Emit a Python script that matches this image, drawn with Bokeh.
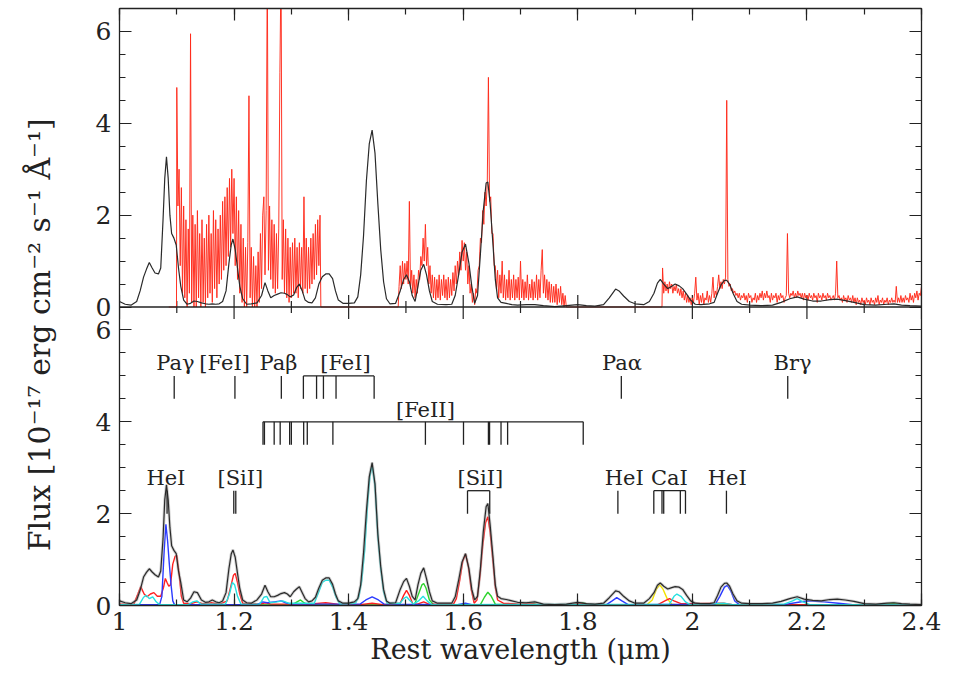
import math

from bokeh.core.properties import value
from bokeh.embed import file_html
from bokeh.layouts import row
from bokeh.models import CustomJSTickFormatter, FixedTicker, Label, LinearAxis, Range1d, Span
from bokeh.plotting import figure
from bokeh.resources import INLINE

FONT = "DejaVu Serif"

# ---------------------------------------------------------------- axes
X_MAJOR = [1.0, 1.2, 1.4, 1.6, 1.8, 2.0, 2.2, 2.4]
X_MINOR = [1.0, 1.1, 1.2, 1.3, 1.4, 1.5, 1.6, 1.7, 1.8, 1.9, 2.0, 2.1, 2.2, 2.3, 2.4]
Y_MAJOR = [0, 2, 4, 6]
Y_MINOR = [0, 0.5, 1, 1.5, 2, 2.5, 3, 3.5, 4, 4.5, 5, 5.5, 6]
PANEL_SPAN = 6.5          # flux range shown in each of the two stacked panels

# ------------------------------------------- model spectrum (wavelength, flux)
MODEL_TOP = [
    (1.000, 0.12), (1.010, 0.06), (1.020, 0.04), (1.030, 0.12), (1.036, 0.35), (1.042, 0.65),
    (1.047, 0.82), (1.052, 0.97), (1.057, 0.85), (1.062, 0.74), (1.068, 0.72), (1.072, 0.85),
    (1.076, 1.90), (1.079, 2.80), (1.082, 3.27), (1.085, 2.80), (1.088, 2.00), (1.091, 1.60),
    (1.095, 1.50), (1.099, 1.35), (1.103, 0.85), (1.107, 0.45), (1.112, 0.15), (1.118, 0.06),
    (1.124, 0.08), (1.130, 0.13), (1.136, 0.12), (1.143, 0.09), (1.150, 0.07), (1.156, 0.06),
    (1.162, 0.07), (1.168, 0.06), (1.174, 0.07), (1.180, 0.12), (1.186, 0.35), (1.191, 0.95),
    (1.195, 1.35), (1.198, 1.48), (1.202, 1.25), (1.206, 0.85), (1.210, 0.45), (1.215, 0.18),
    (1.222, 0.06), (1.230, 0.07), (1.240, 0.09), (1.248, 0.25), (1.254, 0.53), (1.259, 0.35),
    (1.264, 0.20), (1.270, 0.25), (1.276, 0.28), (1.282, 0.31), (1.288, 0.30), (1.293, 0.27),
    (1.298, 0.22), (1.304, 0.26), (1.309, 0.42), (1.314, 0.50), (1.319, 0.35), (1.324, 0.15),
    (1.330, 0.10), (1.336, 0.09), (1.342, 0.20), (1.348, 0.50), (1.354, 0.66), (1.360, 0.72),
    (1.366, 0.72), (1.372, 0.62), (1.377, 0.35), (1.382, 0.15), (1.390, 0.08), (1.400, 0.08),
    (1.410, 0.09), (1.416, 0.22), (1.421, 0.70), (1.426, 1.55), (1.431, 2.75), (1.436, 3.55),
    (1.441, 3.85), (1.446, 3.35), (1.451, 2.25), (1.456, 1.25), (1.461, 0.55), (1.466, 0.18),
    (1.472, 0.07), (1.482, 0.08), (1.490, 0.35), (1.496, 0.60), (1.501, 0.70), (1.506, 0.55),
    (1.511, 0.25), (1.516, 0.12), (1.521, 0.45), (1.526, 0.80), (1.531, 0.93), (1.536, 0.70),
    (1.541, 0.35), (1.546, 0.12), (1.555, 0.06), (1.570, 0.05), (1.580, 0.06), (1.586, 0.25),
    (1.592, 0.70), (1.598, 1.20), (1.604, 1.37), (1.610, 0.95), (1.615, 0.45), (1.620, 0.08),
    (1.625, 0.25), (1.630, 1.15), (1.635, 2.10), (1.640, 2.70), (1.643, 2.72), (1.647, 2.25),
    (1.652, 1.35), (1.656, 0.60), (1.660, 0.20), (1.666, 0.10), (1.675, 0.08), (1.685, 0.05),
    (1.695, 0.04), (1.710, 0.05), (1.725, 0.05), (1.740, 0.03), (1.760, 0.01), (1.780, 0.03),
    (1.800, 0.05), (1.815, 0.03), (1.830, 0.02), (1.845, 0.05), (1.855, 0.20), (1.866, 0.39),
    (1.872, 0.35), (1.880, 0.24), (1.890, 0.12), (1.900, 0.07), (1.915, 0.05), (1.925, 0.12),
    (1.933, 0.30), (1.939, 0.52), (1.944, 0.60), (1.950, 0.50), (1.957, 0.40), (1.964, 0.45),
    (1.970, 0.50), (1.977, 0.46), (1.983, 0.40), (1.990, 0.28), (1.997, 0.15), (2.005, 0.06),
    (2.015, 0.05), (2.030, 0.07), (2.038, 0.10), (2.044, 0.30), (2.050, 0.48), (2.056, 0.58),
    (2.060, 0.58), (2.065, 0.50), (2.071, 0.30), (2.078, 0.12), (2.086, 0.06), (2.100, 0.04),
    (2.120, 0.03), (2.140, 0.04), (2.155, 0.10), (2.170, 0.18), (2.183, 0.22), (2.195, 0.17),
    (2.210, 0.13), (2.225, 0.13), (2.240, 0.16), (2.253, 0.17), (2.267, 0.14), (2.282, 0.10),
    (2.300, 0.05), (2.320, 0.04), (2.340, 0.06), (2.352, 0.07), (2.365, 0.04), (2.380, 0.03),
    (2.400, 0.02),
]

MODEL_BOTTOM = [
    (1.000, 0.10), (1.010, 0.06), (1.020, 0.04), (1.030, 0.12), (1.036, 0.33), (1.042, 0.62),
    (1.047, 0.72), (1.052, 0.80), (1.057, 0.73), (1.062, 0.67), (1.068, 0.62), (1.072, 0.75),
    (1.076, 1.45), (1.079, 2.30), (1.082, 2.63), (1.085, 2.30), (1.088, 1.70), (1.091, 1.30),
    (1.095, 1.20), (1.099, 1.13), (1.103, 0.75), (1.107, 0.50), (1.112, 0.12), (1.118, 0.08),
    (1.124, 0.16), (1.130, 0.30), (1.136, 0.28), (1.143, 0.12), (1.150, 0.07), (1.156, 0.08),
    (1.162, 0.12), (1.168, 0.08), (1.174, 0.06), (1.180, 0.10), (1.186, 0.28), (1.191, 0.80),
    (1.195, 1.12), (1.198, 1.21), (1.202, 1.05), (1.206, 0.70), (1.210, 0.37), (1.215, 0.12),
    (1.222, 0.06), (1.230, 0.05), (1.240, 0.12), (1.248, 0.25), (1.254, 0.44), (1.259, 0.30),
    (1.264, 0.19), (1.270, 0.19), (1.276, 0.22), (1.282, 0.26), (1.288, 0.28), (1.293, 0.25),
    (1.298, 0.19), (1.304, 0.30), (1.309, 0.36), (1.314, 0.41), (1.319, 0.28), (1.324, 0.15),
    (1.330, 0.08), (1.336, 0.10), (1.342, 0.18), (1.348, 0.38), (1.354, 0.55), (1.360, 0.60),
    (1.366, 0.60), (1.372, 0.46), (1.377, 0.25), (1.382, 0.10), (1.390, 0.05), (1.400, 0.05),
    (1.410, 0.08), (1.416, 0.15), (1.421, 0.45), (1.426, 1.15), (1.431, 2.05), (1.436, 2.80),
    (1.441, 3.11), (1.446, 2.65), (1.451, 1.55), (1.456, 0.85), (1.461, 0.35), (1.466, 0.10),
    (1.472, 0.05), (1.482, 0.06), (1.490, 0.35), (1.496, 0.52), (1.501, 0.59), (1.506, 0.42),
    (1.511, 0.20), (1.516, 0.12), (1.521, 0.45), (1.526, 0.70), (1.531, 0.82), (1.536, 0.58),
    (1.541, 0.30), (1.546, 0.10), (1.555, 0.05), (1.570, 0.05), (1.580, 0.05), (1.586, 0.19),
    (1.592, 0.55), (1.598, 0.95), (1.604, 1.13), (1.610, 0.80), (1.615, 0.35), (1.620, 0.12),
    (1.625, 0.20), (1.630, 0.80), (1.635, 1.60), (1.640, 2.15), (1.643, 2.22), (1.647, 1.75),
    (1.652, 1.05), (1.656, 0.45), (1.660, 0.20), (1.666, 0.15), (1.675, 0.13), (1.685, 0.10),
    (1.695, 0.07), (1.710, 0.06), (1.725, 0.08), (1.740, 0.03), (1.760, 0.02), (1.780, 0.03),
    (1.800, 0.07), (1.815, 0.04), (1.830, 0.03), (1.845, 0.05), (1.855, 0.17), (1.866, 0.32),
    (1.872, 0.30), (1.880, 0.20), (1.890, 0.10), (1.900, 0.05), (1.915, 0.05), (1.925, 0.15),
    (1.933, 0.28), (1.939, 0.44), (1.944, 0.49), (1.950, 0.42), (1.957, 0.36), (1.964, 0.39),
    (1.970, 0.41), (1.977, 0.40), (1.983, 0.35), (1.990, 0.22), (1.997, 0.10), (2.005, 0.05),
    (2.015, 0.04), (2.030, 0.04), (2.038, 0.06), (2.044, 0.22), (2.050, 0.40), (2.056, 0.48),
    (2.060, 0.49), (2.065, 0.42), (2.071, 0.25), (2.078, 0.10), (2.086, 0.05), (2.100, 0.04),
    (2.120, 0.04), (2.140, 0.05), (2.155, 0.09), (2.170, 0.15), (2.183, 0.19), (2.195, 0.14),
    (2.210, 0.11), (2.225, 0.10), (2.240, 0.13), (2.253, 0.14), (2.267, 0.12), (2.282, 0.09),
    (2.300, 0.04), (2.320, 0.03), (2.340, 0.05), (2.352, 0.06), (2.365, 0.04), (2.380, 0.03),
    (2.400, 0.02),
]

# ------------------------------------------ model components (lower panel)
COMP_BLUE = [
    (1.000, 0.02), (1.070, 0.02), (1.074, 0.20), (1.078, 1.20), (1.081, 1.77), (1.084, 1.40),
    (1.087, 0.90), (1.090, 0.45), (1.093, 0.10), (1.096, 0.02), (1.240, 0.02), (1.250, 0.08),
    (1.258, 0.06), (1.270, 0.08), (1.282, 0.10), (1.290, 0.06), (1.300, 0.03), (1.420, 0.03),
    (1.430, 0.12), (1.441, 0.19), (1.452, 0.12), (1.462, 0.03), (1.590, 0.02), (1.604, 0.05),
    (1.615, 0.02), (1.850, 0.02), (1.860, 0.10), (1.868, 0.17), (1.877, 0.10), (1.888, 0.02),
    (2.040, 0.03), (2.048, 0.20), (2.056, 0.40), (2.061, 0.44), (2.067, 0.32), (2.074, 0.10),
    (2.082, 0.02), (2.160, 0.02), (2.185, 0.07), (2.200, 0.10), (2.230, 0.08), (2.255, 0.05),
    (2.280, 0.02), (2.400, 0.02),
]
COMP_RED = [
    (1.000, 0.03), (1.025, 0.03), (1.032, 0.25), (1.037, 0.41), (1.043, 0.25), (1.048, 0.19),
    (1.054, 0.25), (1.060, 0.28), (1.066, 0.20), (1.072, 0.20), (1.077, 0.40), (1.080, 0.59),
    (1.083, 0.50), (1.086, 0.42), (1.089, 0.45), (1.093, 0.90), (1.097, 1.07), (1.100, 1.09),
    (1.104, 0.70), (1.108, 0.20), (1.112, 0.05), (1.125, 0.04), (1.135, 0.08), (1.145, 0.04),
    (1.160, 0.06), (1.175, 0.03), (1.188, 0.10), (1.194, 0.40), (1.199, 0.66), (1.202, 0.70),
    (1.206, 0.50), (1.210, 0.25), (1.215, 0.05), (1.245, 0.03), (1.255, 0.06), (1.265, 0.03),
    (1.330, 0.03), (1.360, 0.06), (1.380, 0.03), (1.420, 0.02), (1.441, 0.05), (1.460, 0.02),
    (1.490, 0.05), (1.496, 0.22), (1.501, 0.33), (1.506, 0.22), (1.512, 0.04), (1.520, 0.03),
    (1.531, 0.08), (1.540, 0.03), (1.583, 0.03), (1.588, 0.15), (1.594, 0.55), (1.599, 0.95),
    (1.604, 1.12), (1.609, 0.85), (1.614, 0.35), (1.619, 0.05), (1.624, 0.12), (1.629, 0.60),
    (1.634, 1.30), (1.639, 1.80), (1.643, 1.93), (1.647, 1.60), (1.652, 0.95), (1.656, 0.40),
    (1.660, 0.12), (1.670, 0.05), (1.700, 0.03), (1.715, 0.05), (1.730, 0.02), (1.790, 0.02),
    (1.805, 0.05), (1.820, 0.02), (1.940, 0.02), (1.952, 0.10), (1.960, 0.15), (1.968, 0.10),
    (1.980, 0.04), (2.055, 0.05), (2.070, 0.02), (2.400, 0.02),
]
COMP_CYAN = [
    (1.000, 0.02), (1.035, 0.03), (1.042, 0.18), (1.047, 0.22), (1.052, 0.15), (1.058, 0.19),
    (1.064, 0.08), (1.070, 0.02), (1.120, 0.02), (1.128, 0.08), (1.135, 0.10), (1.142, 0.03),
    (1.185, 0.03), (1.192, 0.25), (1.197, 0.50), (1.201, 0.45), (1.206, 0.20), (1.212, 0.03),
    (1.245, 0.03), (1.252, 0.18), (1.257, 0.20), (1.263, 0.06), (1.275, 0.08), (1.285, 0.10),
    (1.295, 0.05), (1.340, 0.05), (1.348, 0.30), (1.354, 0.50), (1.360, 0.55), (1.366, 0.55),
    (1.372, 0.40), (1.378, 0.18), (1.385, 0.03), (1.412, 0.05), (1.418, 0.20), (1.423, 0.55),
    (1.428, 1.20), (1.433, 2.20), (1.437, 2.80), (1.441, 3.05), (1.446, 2.60), (1.451, 1.50),
    (1.456, 0.80), (1.461, 0.30), (1.467, 0.05), (1.490, 0.05), (1.496, 0.15), (1.501, 0.19),
    (1.506, 0.12), (1.513, 0.03), (1.522, 0.10), (1.530, 0.20), (1.537, 0.10), (1.545, 0.02),
    (1.960, 0.03), (1.968, 0.20), (1.973, 0.25), (1.980, 0.20), (1.988, 0.08), (1.996, 0.02),
    (2.055, 0.05), (2.070, 0.02), (2.160, 0.03), (2.175, 0.10), (2.183, 0.15), (2.193, 0.08),
    (2.205, 0.02), (2.400, 0.02),
]
COMP_GREEN = [
    (1.000, 0.01), (1.300, 0.01), (1.310, 0.08), (1.316, 0.12), (1.322, 0.06), (1.330, 0.01),
    (1.515, 0.02), (1.522, 0.25), (1.528, 0.45), (1.531, 0.48), (1.535, 0.38), (1.541, 0.12),
    (1.548, 0.02), (1.630, 0.02), (1.637, 0.18), (1.643, 0.29), (1.649, 0.20), (1.656, 0.03),
    (1.700, 0.02), (1.715, 0.06), (1.730, 0.02), (1.795, 0.02), (1.808, 0.06), (1.820, 0.02),
    (2.330, 0.01), (2.350, 0.05), (2.370, 0.01), (2.400, 0.01),
]
COMP_YELLOW = [
    (1.000, 0.00), (1.920, 0.01), (1.930, 0.12), (1.937, 0.35), (1.943, 0.45), (1.949, 0.35),
    (1.956, 0.15), (1.964, 0.03), (1.975, 0.01), (2.400, 0.00),
]

# ------------------------------------------- observed spectrum, 0.002 um bins
OBS_STEP = 0.002
OBS_J_START = 1.100
OBS_J = [
    4.78, 2.2, 3.0, 0.9, 2.6, 0.3, 2.2, 0.2, 1.9, 0.0, 1.7, 0.3, 5.95, 0.1, 2.0, 0.0,
    1.8, 0.0, 2.1, 0.2, 1.6, 0.0, 1.9, 0.1, 1.5, 0.0, 1.8, 0.2, 2.0, 0.3, 1.6, 0.1,
    2.1, 0.4, 1.9, 0.2, 1.7, 0.5, 2.0, 0.6, 2.3, 0.8, 2.4, 0.9, 2.6, 1.1, 2.8, 1.3,
    3.0, 1.6, 2.8, 0.9, 2.4, 0.6, 2.1, 0.3, 1.8, 0.1, 1.5, 0.0, 1.3, 0.0, 1.4, 4.6,
    0.2, 1.3, 0.0, 1.1, 0.0, 0.9, 0.0, 1.2, 0.1, 1.6, 0.4, 2.0, 2.4, 0.7, 2.1, 7.5,
    0.8, 2.2, 0.6, 1.9, 0.4, 1.8, 0.3, 1.6, 0.4, 1.7, 5.1, 7.5, 0.6, 1.9, 0.3, 1.7,
    0.2, 1.5, 0.1, 1.3, 0.2, 1.4, 0.3, 1.5, 0.3, 1.3, 0.2, 1.4, 0.4, 1.3, 0.3, 2.4,
    0.4, 1.5, 0.3, 1.3, 0.4, 1.5, 0.5, 1.6, 0.6, 1.8, 0.7, 1.9, 0.9, 2.0,
]
OBS_H_START = 1.488
OBS_H = [
    0.45, 0.9, 0.4, 1.0, 0.5, 0.95, 0.6, 1.0, 0.5, 2.3, 0.4, 0.8, 0.3, 0.7, 0.2, 0.6,
    0.3, 0.8, 0.6, 1.1, 0.9, 1.5, 1.0, 1.8, 0.9, 1.3, 0.5, 0.9, 0.3, 0.7, 0.2, 0.65,
    0.15, 0.6, 0.2, 0.7, 0.15, 0.6, 0.25, 0.7, 0.2, 0.6, 0.15, 0.65, 0.2, 0.6, 0.25, 0.75,
    0.35, 0.9, 0.5, 1.0, 0.7, 1.2, 0.8, 1.45, 1.0, 1.4, 0.8, 1.2, 0.5, 0.9, 0.3, 0.5,
    0.1, 0.3, 0.05, 0.4, 0.3, 0.8, 0.9, 1.5, 1.4, 2.1, 1.8, 2.5, 2.2, 2.7, 5.0, 2.3,
    2.4, 1.6, 1.6, 0.9, 0.9, 0.4, 0.8, 0.2, 0.7, 0.3, 1.0, 0.2, 0.7, 0.15, 0.6, 0.2,
    0.8, 0.15, 0.6, 0.2, 0.7, 0.15, 0.6, 0.2, 0.65, 0.15, 1.0, 0.2, 0.6, 0.15, 0.55, 0.2,
    0.7, 0.15, 0.5, 0.2, 0.6, 0.15, 0.55, 0.2, 0.7, 0.15, 0.6, 0.2, 0.8, 1.25, 0.3, 0.7,
    0.2, 0.6, 0.15, 0.55, 0.1, 0.5, 0.1, 0.45, 0.1, 0.5, 0.05, 0.4, 0.1, 0.45, 0.05, 0.3,
    0.0, 0.25, 0.0,
]
OBS_K_START = 1.948
OBS_K = [
    0.85, 0.3, 0.55, 0.35, 0.5, 0.3, 0.55, 0.4, 0.5, 0.3, 0.45, 0.35, 0.5, 0.3, 0.4, 0.25,
    0.4, 0.2, 0.35, 0.15, 0.3, 0.1, 0.25, 0.1, 0.2, 0.05, 0.2, 0.1, 0.3, 0.65, 0.15, 0.3,
    0.05, 0.25, 0.1, 0.3, 0.05, 0.2, 0.15, 0.35, 0.1, 0.25, 0.1, 0.3, 0.65, 0.2, 0.35, 0.25,
    0.45, 0.7, 0.4, 0.55, 0.4, 0.6, 0.5, 0.65, 4.5, 0.6, 0.45, 0.5, 0.35, 0.4, 0.3, 0.35,
    0.25, 0.3, 0.2, 0.3, 0.15, 0.25, 0.2, 0.3, 0.15, 0.25, 0.1, 0.3, 0.2, 0.25, 0.1, 0.2,
    0.15, 0.3, 0.1, 0.25, 0.15, 0.3, 0.2, 0.35, 0.15, 0.3, 0.2, 0.35, 0.2, 0.25, 0.1, 0.3,
    0.15, 0.25, 0.2, 0.3, 0.1, 0.25, 0.15, 0.3, 0.2, 0.25, 0.1, 0.2, 0.25, 1.6, 0.3, 0.2,
    0.3, 0.25, 0.35, 0.2, 0.3, 0.2, 0.35, 0.25, 0.3, 0.2, 0.3, 0.15, 0.3, 0.2, 0.25, 0.15,
    0.3, 0.2, 0.25, 0.15, 0.3, 0.2, 0.25, 0.1, 0.3, 0.2, 0.25, 0.15, 0.3, 0.2, 0.25, 0.15,
    0.3, 0.2, 0.25, 0.15, 0.2, 0.25, 0.15, 0.3, 1.0, 0.2, 0.25, 0.15, 0.2, 0.1, 0.25, 0.15,
    0.2, 0.1, 0.25, 0.15, 0.2, 0.1, 0.25, 0.1, 0.2, 0.05, 0.2, 0.1, 0.15, 0.05, 0.2, 0.1,
    0.15, 0.05, 0.2, 0.1, 0.15, 0.05, 0.2, 0.1, 0.15, 0.05, 0.2, 0.1, 0.25, 0.05, 0.15, 0.1,
    0.2, 0.05, 0.15, 0.1, 0.2, 0.05, 0.15, 0.1, 0.2, 0.1, 0.15, 0.1, 0.45, 0.1, 0.2, 0.1,
    0.25, 0.1, 0.2, 0.1, 0.25, 0.15, 0.2, 0.1, 0.3, 0.15, 0.25, 0.1, 0.3, 0.2, 0.35, 0.15,
    0.3, 0.25, 0.45,
]
# wavelength spans without data, drawn along zero
OBS_GAPS = [(1.086, 1.0995), (1.3515, 1.4865), (1.7815, 1.947)]

# ------------------------------------------------------- line identifications
LINES_UPPER = [1.0955, 1.2015, 1.2825, 1.8760, 2.1665]            # Pa-gamma, [FeI], Pa-beta, Pa-alpha, Br-gamma
FEI_GROUP = [1.321, 1.344, 1.356, 1.378, 1.4445]
FEII_GROUP = [1.2505, 1.2530, 1.2700, 1.2805, 1.2970, 1.3000, 1.3215, 1.3278,
              1.3725, 1.5340, 1.6005, 1.6440, 1.6460, 1.6660, 1.6775, 1.8095]
LINES_LOWER = [1.0830, 1.1995, 1.2030, 1.8700, 2.0595]            # HeI, [SiI] pair, HeI, HeI
SII_GROUP = [1.6075, 1.6463]
CAI_GROUP = [1.9327, 1.9470, 1.9500, 1.9790, 1.9880]

LABEL_TEXT = ["Paγ", "[FeI]", "Paβ", "[FeI]", "Paα", "Brγ", "[FeII]",
              "HeI", "[SiI]", "[SiI]", "HeI", "CaI", "HeI"]
LABEL_WAVE = [1.0975, 1.1835, 1.2775, 1.3945, 1.877, 2.175, 1.534,
              1.081, 1.211, 1.630, 1.881, 1.960, 2.061]
LABEL_ROW = ["upper", "upper", "upper", "upper", "upper", "upper", "feii",
             "lower", "lower", "lower", "lower", "lower", "lower"]


def unzip(pairs):
    return [p[0] for p in pairs], [p[1] for p in pairs]


def observed_spectrum():
    waves, flux = [], []
    segments = [(OBS_J_START, OBS_J), (OBS_H_START, OBS_H), (OBS_K_START, OBS_K)]
    for (g0, g1), (start, vals) in zip(OBS_GAPS, segments):
        waves += [g0, g1]
        flux += [0.0, 0.0]
        waves += [round(start + OBS_STEP * i, 4) for i in range(len(vals))]
        flux += vals
    return waves, flux


# ------------------------------------------------------------------ styling
INK = "#222222"
FRAME_W, FRAME_H = 802, 597
PX_PER_UNIT = FRAME_H / (2 * PANEL_SPAN)
MAJOR_TICK_PX, MINOR_TICK_PX = 12, 6

# both panels share one frame: the lower panel uses the default range 0..6.5,
# the upper panel's flux is drawn on an extra range whose zero sits mid-frame
y_major = Y_MAJOR + [v + PANEL_SPAN for v in Y_MAJOR]
y_minor = Y_MINOR + [v + PANEL_SPAN for v in Y_MINOR] + [2 * PANEL_SPAN]
x_ticker = FixedTicker(ticks=X_MAJOR, minor_ticks=X_MINOR)
y_ticker = FixedTicker(ticks=y_major, minor_ticks=y_minor)

blank = CustomJSTickFormatter(code="return ''")
x_numeric = CustomJSTickFormatter(code="return String(Math.round(tick * 10) / 10)")
y_numeric = CustomJSTickFormatter(
    args=dict(span=PANEL_SPAN),
    code="const v = tick >= span - 1e-6 ? tick - span : tick; return String(Math.round(v * 10) / 10);",
)


def style_axis(ax, formatter, font_size="25px", standoff=8):
    ax.major_tick_in = MAJOR_TICK_PX
    ax.major_tick_out = 0
    ax.minor_tick_in = MINOR_TICK_PX
    ax.minor_tick_out = 0
    ax.axis_line_color = INK
    ax.axis_line_width = 1.3
    ax.major_tick_line_color = INK
    ax.major_tick_line_width = 1.2
    ax.minor_tick_line_color = INK
    ax.minor_tick_line_width = 1.2
    ax.formatter = formatter
    ax.major_label_text_font = FONT
    ax.major_label_text_font_size = font_size
    ax.major_label_text_color = INK
    ax.major_label_standoff = standoff


p = figure(
    x_range=Range1d(1.0, 2.4), y_range=Range1d(0, 2 * PANEL_SPAN),
    frame_width=FRAME_W, frame_height=FRAME_H,
    min_border_left=59, min_border_right=39, min_border_top=8, min_border_bottom=70,
    output_backend="svg", toolbar_location=None,
    background_fill_color="white", border_fill_color="white",
)
p.extra_y_ranges = {"upper": Range1d(-PANEL_SPAN, PANEL_SPAN)}
p.grid.visible = False
p.outline_line_color = INK

p.xaxis.ticker = x_ticker
p.yaxis.ticker = y_ticker
style_axis(p.xaxis[0], x_numeric, standoff=6)
style_axis(p.yaxis[0], y_numeric)
p.xaxis.axis_label = "Rest wavelength (μm)"
p.xaxis.axis_label_text_font = FONT
p.xaxis.axis_label_text_font_size = "27px"
p.xaxis.axis_label_text_font_style = "normal"
p.xaxis.axis_label_text_color = INK
p.xaxis.axis_label_standoff = 1

top_axis = LinearAxis(ticker=x_ticker)
right_axis = LinearAxis(ticker=y_ticker)
style_axis(top_axis, blank, font_size="0px", standoff=0)
style_axis(right_axis, blank, font_size="0px", standoff=0)
p.add_layout(top_axis, "above")
p.add_layout(right_axis, "right")

# shared edge between the two panels, with inward ticks on both sides
p.add_layout(Span(location=PANEL_SPAN, dimension="width", line_color=INK, line_width=1.3))
mid_len = [(MAJOR_TICK_PX if any(abs(x - m) < 1e-9 for m in X_MAJOR) else MINOR_TICK_PX) / PX_PER_UNIT
           for x in X_MINOR]
p.segment(x0=X_MINOR, x1=X_MINOR,
          y0=[PANEL_SPAN - L for L in mid_len], y1=[PANEL_SPAN + L for L in mid_len],
          line_color=INK, line_width=1.2)

# ---------------------------------------------------------------- upper panel
obs_w, obs_f = observed_spectrum()
p.line(obs_w, obs_f, line_color="#ff2a1a", line_width=1.0, line_alpha=0.95, y_range_name="upper")
mw, mf = unzip(MODEL_TOP)
p.line(mw, mf, line_color="#2a2a2a", line_width=1.2, y_range_name="upper")

# ---------------------------------------------------------------- lower panel
for comp, colour in [(COMP_YELLOW, "#f2e200"), (COMP_GREEN, "#2ed42e"),
                     (COMP_RED, "#ff2020"), (COMP_BLUE, "#2b3bff"),
                     (COMP_CYAN, "#26e0e0")]:
    cw, cf = unzip(comp)
    p.line(cw, cf, line_color=colour, line_width=1.4)

bw, bf = unzip(MODEL_BOTTOM)
p.line(bw, bf, line_color="#9a9a9a", line_width=3.0, line_alpha=0.45)
p.line(bw, bf, line_color="#2a2a2a", line_width=1.2)


def mark_lines(waves, y_low, y_high, bracket):
    n = len(waves)
    p.segment(x0=waves, x1=waves, y0=[y_low] * n, y1=[y_high] * n,
              line_color=INK, line_width=1.3)
    if bracket:
        p.segment(x0=[min(waves)], x1=[max(waves)], y0=[y_high], y1=[y_high],
                  line_color=INK, line_width=1.3)


mark_lines(LINES_UPPER, 4.5, 5.0, False)
mark_lines(FEI_GROUP, 4.5, 5.0, True)
mark_lines(FEII_GROUP, 3.5, 4.0, True)
mark_lines(LINES_LOWER, 2.0, 2.5, False)
mark_lines(SII_GROUP, 2.0, 2.5, True)
mark_lines(CAI_GROUP, 2.0, 2.5, True)

ROW_BASELINE = {"upper": 5.28, "feii": 4.25, "lower": 2.78}
p.text(x=LABEL_WAVE, y=[ROW_BASELINE[r] for r in LABEL_ROW], text=LABEL_TEXT,
       text_font=value(FONT), text_font_size="21px", text_color=INK,
       text_align="center", text_baseline="alphabetic")

# ------------------------------------------------------ shared flux axis title
title_fig = figure(width=60, height=675, x_range=Range1d(0, 60), y_range=Range1d(0, 675),
                   min_border=0, output_backend="svg", toolbar_location=None,
                   x_axis_type=None, y_axis_type=None, outline_line_color=None)
title_fig.grid.visible = False
title_fig.add_layout(Label(x=39, y=306, text="Flux [10⁻¹⁷ erg cm⁻² s⁻¹ Å⁻¹]",
                           angle=math.pi / 2, text_align="center", text_baseline="middle",
                           text_font=FONT, text_font_size="30px", text_color=INK))

layout = row(title_fig, p, spacing=0)
open("out.html", "w").write(file_html(layout, INLINE))
